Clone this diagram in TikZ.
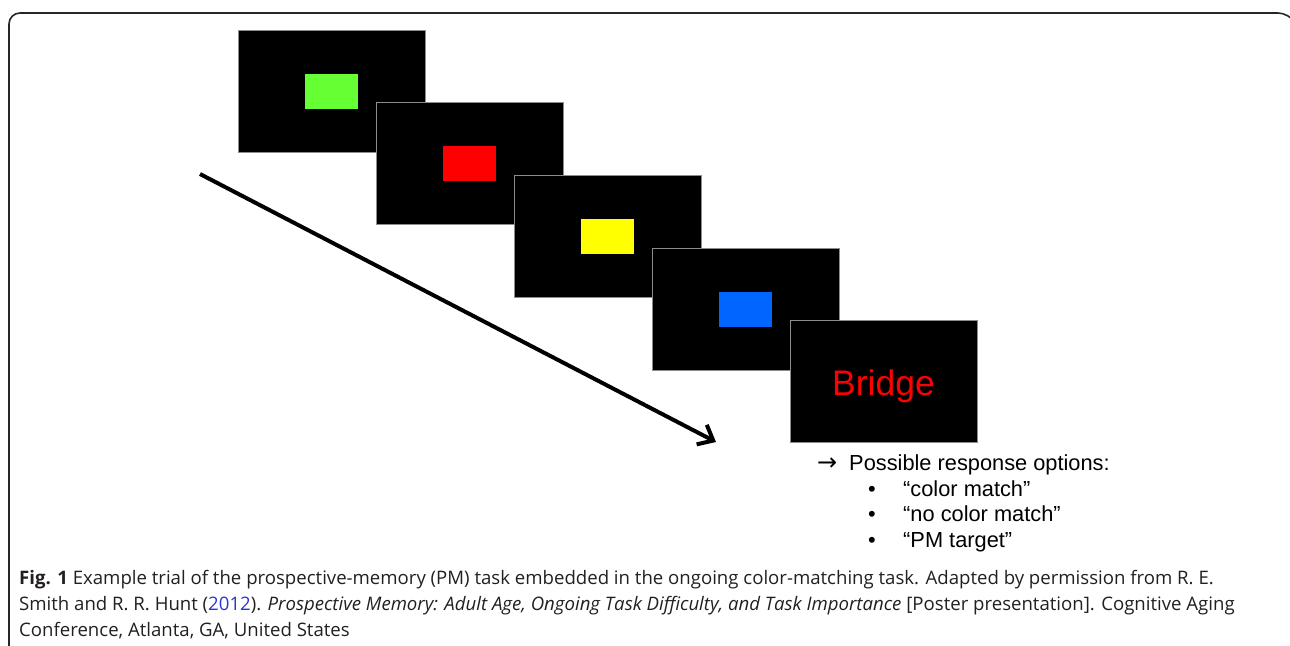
\documentclass[tikz,border=0pt]{standalone}
\usepackage{fontspec}
\setmainfont{Liberation Sans}
\newfontfamily\capfont{Open Sans}
\newfontfamily\symfont{DejaVu Sans}
\usetikzlibrary{arrows.meta}
\definecolor{stimgreen}{HTML}{66FF33}
\definecolor{stimred}{HTML}{FF0000}
\definecolor{stimyellow}{HTML}{FFFF00}
\definecolor{stimblue}{HTML}{0066FF}
\definecolor{linkblue}{HTML}{2B35D6}
\definecolor{captext}{HTML}{231F20}
\begin{document}
\begin{tikzpicture}[x=1pt,y=-1pt,
  screen/.style={fill=black,draw=black!45,line width=0.8pt,minimum width=187pt,minimum height=122pt,inner sep=0pt},
  patch/.style={minimum width=53pt,minimum height=35pt,inner sep=0pt,draw=none},
  timeline/.style={line width=4pt,-{Straight Barb[length=13pt,width=22pt,line width=4pt]}},
  respline/.style={anchor=base west,inner sep=0pt,font=\fontsize{21.8}{25}\selectfont},
  capline/.style={anchor=base west,inner sep=0pt,text=captext,font=\capfont\fontsize{18.6}{22}\selectfont}]
\useasboundingbox (0,0) rectangle (1290,645);
% panel frame, open to the right and bottom
\begin{scope}
\clip (0,0) rectangle (1290,645);
\draw[line width=1.6pt,black!85,rounded corners=11pt] (9,700) -- (9,13) -- (1289,13) -- (1300,30);
\end{scope}
% sequence of stimulus screens
\node[screen] (s1) at (331.5,91) {};
\node[patch,fill=stimgreen] (p1) at (s1.center) {};
\node[screen] (s2) at (469.5,163) {};
\node[patch,fill=stimred] (p2) at (s2.center) {};
\node[screen] (s3) at (607.5,236) {};
\node[patch,fill=stimyellow] (p3) at (s3.center) {};
\node[screen] (s4) at (745.5,309) {};
\node[patch,fill=stimblue] (p4) at (s4.center) {};
\node[screen] (s5) at (883.5,381.5) {};
\node[text=stimred,font=\fontsize{35.5}{40}\selectfont,inner sep=0pt,anchor=base] (w5) at (883.5,395) {Bridge};
% time arrow
\coordinate (t0) at (200,174);
\coordinate (t1) at (716,442);
\draw[timeline] (t0) -- (t1);
% response options
\node[respline] (ra) at (817,470) {{\symfont\fontsize{24}{25}\selectfont →}};
\node[respline] (r0) at (849,470) {Possible response options:};
\node[respline] (b1) at (868,496) {•};
\node[respline] (r1) at (903,496) {“color match”};
\node[respline] (b2) at (868,521.5) {•};
\node[respline] (r2) at (903,521.5) {“no color match”};
\node[respline] (b3) at (868,547) {•};
\node[respline] (r3) at (903,547) {“PM target”};
% caption
\node[capline] (c1) at (19,584) {\textbf{Fig. 1} Example trial of the prospective-memory (PM) task embedded in the ongoing color-matching task. Adapted by permission from R. E.};
\node[capline] (c2) at (19,610) {Smith and R. R. Hunt ({\color{linkblue}2012}). \textit{Prospective Memory: Adult Age, Ongoing Task Difficulty, and Task Importance} [Poster presentation]. Cognitive Aging};
\node[capline] (c3) at (19,636) {Conference, Atlanta, GA, United States};
\end{tikzpicture}
\end{document}
